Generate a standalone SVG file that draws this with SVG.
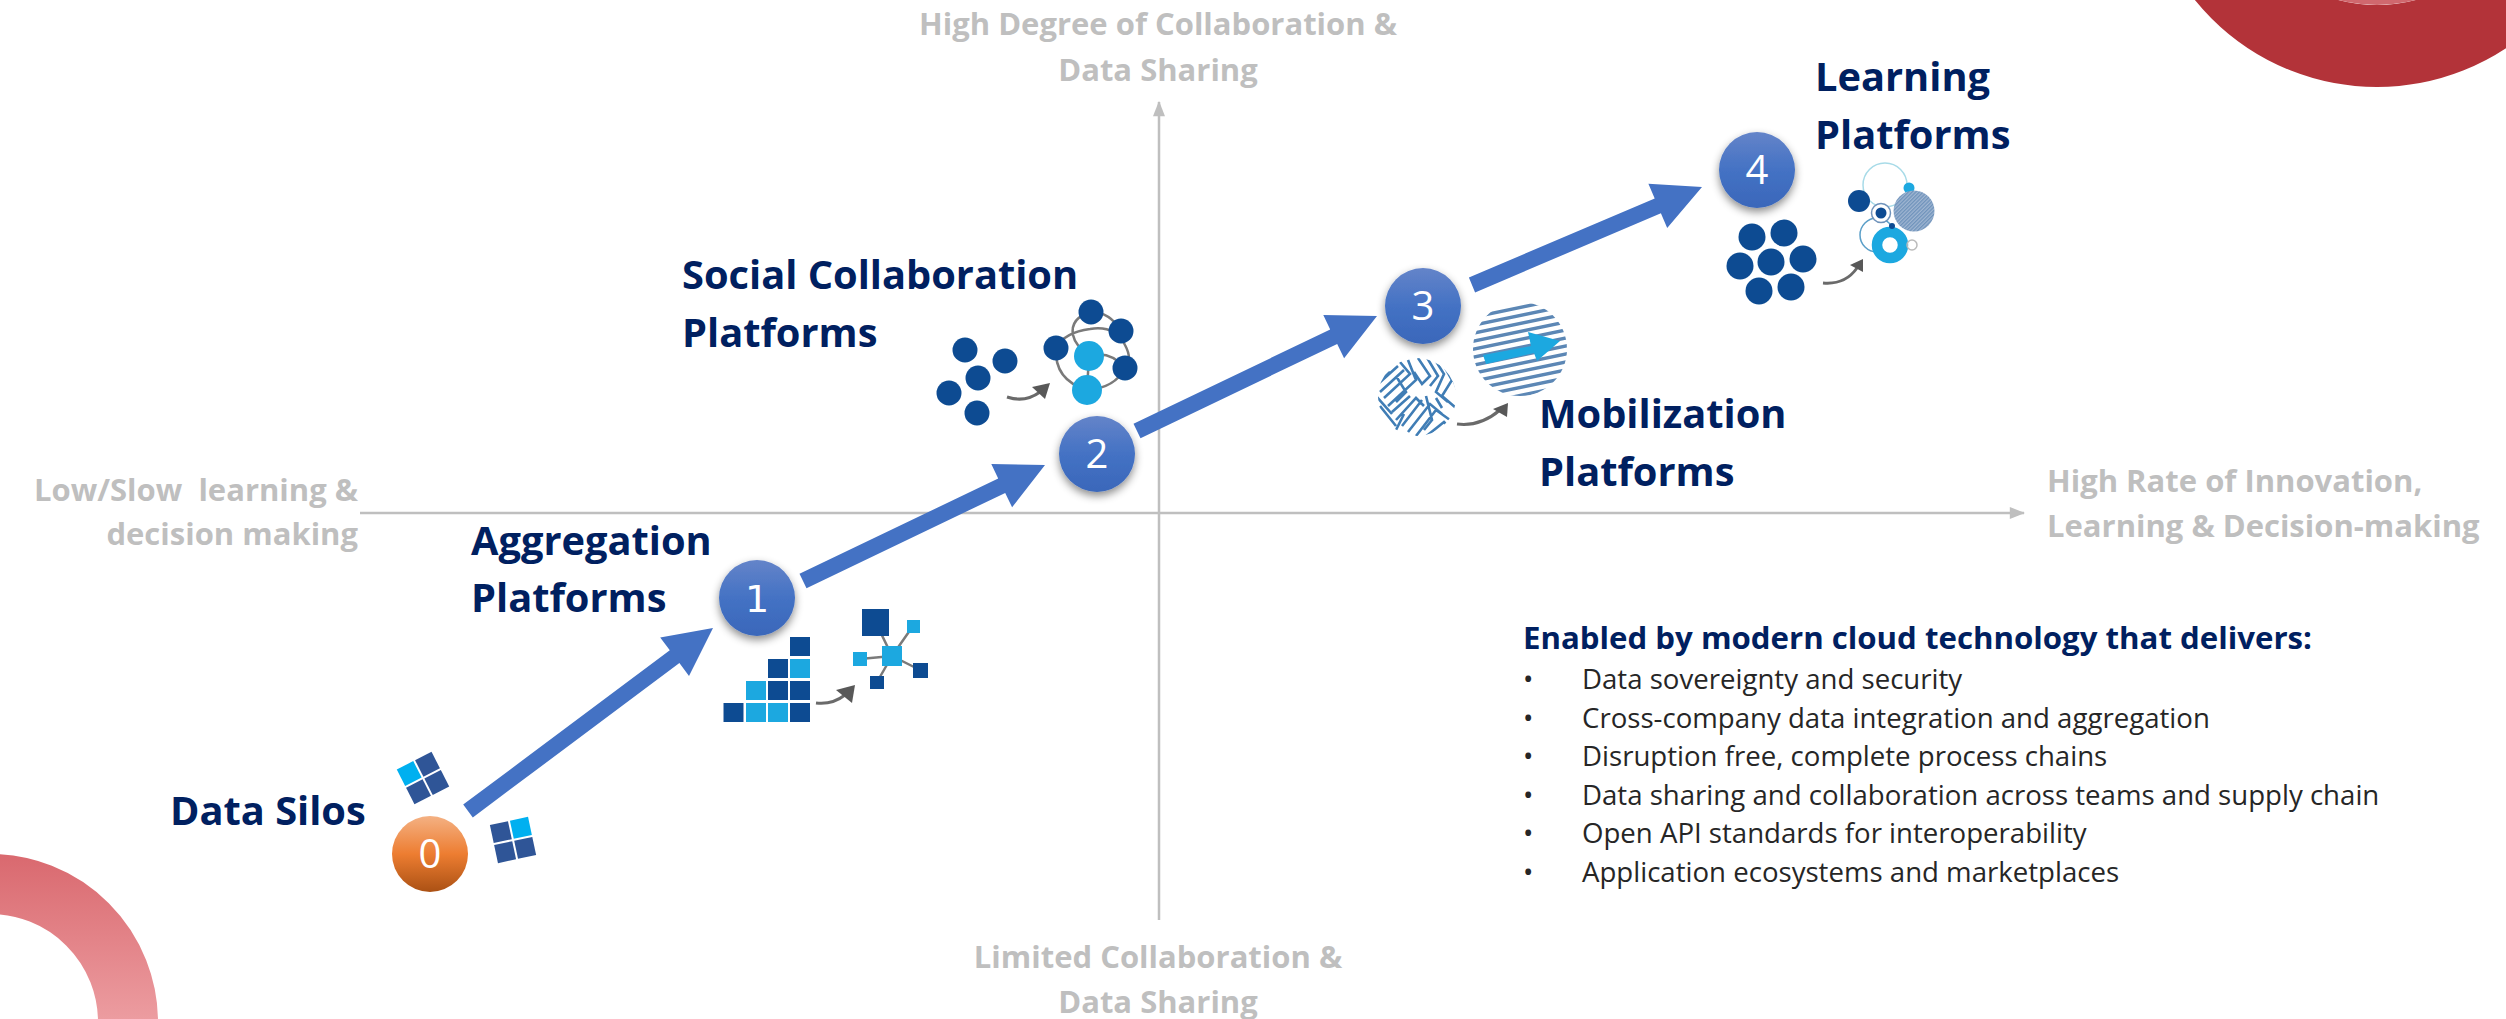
<svg xmlns="http://www.w3.org/2000/svg" width="2506" height="1019" viewBox="0 0 2506 1019">
<style>
text{font-family:"Open Sans","Noto Sans","Liberation Sans",sans-serif;white-space:pre}
.g{font-size:31px;font-weight:700;fill:#bfbfbf}
.t{font-size:39.8px;font-weight:700;fill:#002060}
.h{font-size:31.2px;font-weight:700;fill:#002060}
.b{font-size:27.6px;fill:#262626}
.n{font-size:40px;fill:#fff;text-anchor:middle}
.m{text-anchor:middle}
.e{text-anchor:end}
.d{fill:#0f4c92}
.l{fill:#1fa8e0}
.q{fill:#2f5597}
.a{fill:#4472c4}
.c{fill:none;stroke:#6b6b6b;stroke-width:3}
.w{fill:none;stroke:#7a7a7a;stroke-width:2.5}
.k{fill:#595959}
</style>
<defs>
<linearGradient id="gb" x1="0" y1="0" x2="0" y2="1"><stop offset="0" stop-color="#6484c9"/><stop offset=".5" stop-color="#4472c4"/><stop offset="1" stop-color="#3a67ba"/></linearGradient>
<linearGradient id="go" x1="0" y1="0" x2="0" y2="1"><stop offset="0" stop-color="#f4b183"/><stop offset=".5" stop-color="#ed7d31"/><stop offset="1" stop-color="#ab5114"/></linearGradient>
<linearGradient id="gr" gradientUnits="userSpaceOnUse" x1="0" y1="852" x2="0" y2="1019"><stop offset="0" stop-color="#d9686e"/><stop offset="1" stop-color="#ec9ca0"/></linearGradient>
<filter id="sh" x="-30%" y="-30%" width="160%" height="170%"><feDropShadow dx="0" dy="4" stdDeviation="4" flood-color="#000" flood-opacity=".45"/></filter>
<filter id="sf" x="-5%" y="-5%" width="110%" height="110%"><feGaussianBlur stdDeviation=".6"/></filter>
<marker id="ah" markerWidth="16" markerHeight="12" refX="13" refY="5.5" orient="auto" markerUnits="userSpaceOnUse" viewBox="0 0 14 11"><path d="M0 0L14 5.5L0 11Z" fill="#bfbfbf"/></marker>
<pattern id="hat" width="2.6" height="2.6" patternUnits="userSpaceOnUse" patternTransform="rotate(45)"><rect width="2.6" height="2.6" fill="#a0b6d2"/><rect width="1.3" height="2.6" fill="#6f93bb"/></pattern>
<clipPath id="c3a"><circle cx="1417" cy="397" r="39"/></clipPath>
<clipPath id="c3b"><circle cx="1520" cy="349" r="47"/></clipPath>
</defs>

<g id="deco">
<circle cx="2377" cy="-147" r="193" fill="none" stroke="#b33339" stroke-width="82"/>
<circle cx="2377" cy="-147" r="152" fill="#d0686e"/>
<circle cx="-10" cy="1022" r="138" fill="none" stroke="url(#gr)" stroke-width="60"/>
</g>

<g id="axes">
<line x1="360" y1="513" x2="2024" y2="513" stroke="#bfbfbf" stroke-width="2.5" marker-end="url(#ah)"/>
<line x1="1159" y1="920" x2="1159" y2="102" stroke="#bfbfbf" stroke-width="2.5" marker-end="url(#ah)"/>
</g>

<g id="connectors" class="a">
<polygon points="463.2,804.6 669.8,650.3 660.2,637.5 713,628 689,675.9 679.4,663.1 472.8,817.4"/>
<polygon points="799.5,573.8 998.2,478.5 991.3,464.1 1045,465 1012.1,507.3 1005.2,492.9 806.5,588.2"/>
<polygon points="1133.5,423.8 1330.2,329.5 1323.3,315.1 1377,316 1344.1,358.3 1337.2,343.9 1140.5,438.2"/>
<polygon points="1468.9,277.6 1654.7,198.4 1648.4,183.7 1702,187 1667.2,227.9 1660.9,213.2 1475.1,292.4"/>
</g>

<g id="axis-labels">
<text class="g m" x="1158" y="35">High Degree of Collaboration &amp;</text>
<text class="g m" x="1158" y="81">Data Sharing</text>
<text class="g e" x="358" y="501">Low/Slow  learning &amp;</text>
<text class="g e" x="358" y="545">decision making</text>
<text class="g" x="2047" y="492">High Rate of Innovation,</text>
<text class="g" x="2047" y="537">Learning &amp; Decision-making</text>
<text class="g m" x="1158" y="968">Limited Collaboration &amp;</text>
<text class="g m" x="1158" y="1013">Data Sharing</text>
</g>

<g id="node-0">
<text class="t" x="170" y="825">Data Silos</text>
<g transform="translate(423,778) rotate(-27)">
<rect x="-19.5" y="-19.5" width="18.5" height="18.5" fill="#00b0f0"/>
<rect x="1" y="-19.5" width="18.5" height="18.5" class="q"/>
<rect x="-19.5" y="1" width="18.5" height="18.5" class="q"/>
<rect x="1" y="1" width="18.5" height="18.5" class="q"/>
</g>
<g transform="translate(513,840) rotate(-12)">
<rect x="-19.5" y="-19.5" width="18.5" height="18.5" class="q"/>
<rect x="1" y="-19.5" width="18.5" height="18.5" fill="#00b0f0"/>
<rect x="-19.5" y="1" width="18.5" height="18.5" class="q"/>
<rect x="1" y="1" width="18.5" height="18.5" class="q"/>
</g>
<circle cx="430" cy="854" r="38" fill="url(#go)"/>
<text class="n" x="430" y="868">0</text>
</g>

<g id="node-1">
<text class="t" x="471" y="555">Aggregation</text>
<text class="t" x="471" y="612">Platforms</text>
<circle cx="757" cy="598" r="38" fill="url(#gb)" filter="url(#sh)"/>
<text class="n" x="757" y="612" style="font-family:'DejaVu Sans',sans-serif;font-size:38px">1</text>
<g filter="url(#sf)">
<rect class="d" x="723.5" y="703" width="20" height="19"/>
<rect class="l" x="746" y="703" width="20" height="19"/>
<rect class="l" x="768" y="703" width="20" height="19"/>
<rect class="d" x="790" y="703" width="20" height="19"/>
<rect class="l" x="746" y="681" width="20" height="19"/>
<rect class="d" x="768" y="681" width="20" height="19"/>
<rect class="d" x="790" y="681" width="20" height="19"/>
<rect class="d" x="768" y="659" width="20" height="19"/>
<rect class="l" x="790" y="659" width="20" height="19"/>
<rect class="d" x="790" y="637" width="20" height="19"/>
<path class="c" d="M816 703Q832 705 845 695"/>
<polygon class="k" points="836,690 855,685 852,703"/>
<path class="w" d="M876 623L892 656L913 626M860 659L892 656L920 670M877 682L892 656"/>
<rect class="d" x="862" y="609" width="27" height="27"/>
<rect class="l" x="907" y="620" width="13" height="13"/>
<rect class="l" x="882" y="646" width="20" height="20"/>
<rect class="l" x="853" y="652" width="14" height="14"/>
<rect class="d" x="913" y="663" width="15" height="15"/>
<rect class="d" x="870" y="676" width="14" height="13"/>
</g>
</g>

<g id="node-2">
<text class="t" x="682" y="289">Social Collaboration</text>
<text class="t" x="682" y="347">Platforms</text>
<circle cx="1097" cy="454" r="38" fill="url(#gb)" filter="url(#sh)"/>
<text class="n" x="1097" y="468">2</text>
<g filter="url(#sf)">
<circle class="d" cx="965" cy="350" r="12.5"/>
<circle class="d" cx="1005" cy="361" r="12.5"/>
<circle class="d" cx="978" cy="378" r="12.5"/>
<circle class="d" cx="949" cy="393" r="12.5"/>
<circle class="d" cx="977" cy="413" r="12.5"/>
<path class="c" d="M1007 397Q1025 403 1040 392"/>
<polygon class="k" points="1032,387 1050,383 1045,399"/>
<path class="w" d="M1091 312Q1070 318 1073 335Q1075 345 1089 356M1091 312Q1110 312 1121 331M1056 348Q1065 332 1090 329Q1115 325 1125 345Q1133 360 1125 368M1056 348Q1054 380 1087 390M1089 356L1087 390M1089 356Q1110 350 1125 368M1087 390Q1115 388 1125 368"/>
<circle class="d" cx="1091" cy="312" r="12.5"/>
<circle class="d" cx="1121" cy="331" r="12.5"/>
<circle class="d" cx="1056" cy="348" r="12.5"/>
<circle class="l" cx="1089" cy="356" r="15"/>
<circle class="d" cx="1125" cy="368" r="12.5"/>
<circle class="l" cx="1087" cy="390" r="15"/>
</g>
</g>

<g id="node-3">
<text class="t" x="1539" y="428">Mobilization</text>
<text class="t" x="1539" y="486">Platforms</text>
<circle cx="1423" cy="306" r="38" fill="url(#gb)" filter="url(#sh)"/>
<text class="n" x="1423" y="320">3</text>
<g filter="url(#sf)">
<g clip-path="url(#c3a)" fill="none" stroke="#3f7db5" stroke-width="2.6">
<path d="M1378 384L1398 366M1380 392L1404 370M1384 398L1410 374L1400 362M1388 406L1416 380L1408 360M1392 412L1410 396M1396 420L1416 398L1424 406M1402 426L1422 400M1408 432L1430 404L1442 414M1416 436L1436 410L1450 420M1424 438L1444 422L1452 430M1436 436L1456 418M1418 358L1430 376L1422 384L1414 372M1426 356L1438 376L1430 386M1434 358L1444 374L1436 392L1448 402M1442 362L1452 380L1442 396L1456 408M1450 370L1458 392M1376 396L1392 414M1380 406L1396 426M1396 376L1406 392L1396 402M1404 414L1396 430M1426 396L1432 420L1424 430M1436 398L1442 408M1372 388L1390 372"/>
</g>
<g clip-path="url(#c3b)" fill="none" stroke="#5b87b5" stroke-width="3.4">
<path d="M1460 320L1580 295M1460 328L1580 303M1460 336L1580 311M1460 344L1580 319M1460 352L1580 327M1460 360L1580 335M1460 368L1580 343M1460 376L1580 351M1460 384L1580 359M1460 392L1580 367M1460 400L1580 375M1460 408L1580 383M1460 416L1580 391M1460 424L1580 399"/>
</g>
<polygon class="l" points="1483,355 1531,346 1528,332 1560,341 1537,361 1534,353 1486,364"/>
<path class="c" d="M1457 424Q1480 427 1500 410"/>
<polygon class="k" points="1493,409 1508,403 1507,417"/>
</g>
</g>

<g id="node-4">
<text class="t" x="1815" y="91">Learning</text>
<text class="t" x="1815" y="149">Platforms</text>
<circle cx="1757" cy="170" r="38" fill="url(#gb)" filter="url(#sh)"/>
<text class="n" x="1757" y="184">4</text>
<g filter="url(#sf)">
<circle class="d" cx="1752" cy="237" r="13.5"/>
<circle class="d" cx="1784" cy="233" r="13.5"/>
<circle class="d" cx="1740" cy="266" r="13.5"/>
<circle class="d" cx="1771" cy="262" r="13.5"/>
<circle class="d" cx="1803" cy="259" r="13.5"/>
<circle class="d" cx="1759" cy="291" r="13.5"/>
<circle class="d" cx="1791" cy="287" r="13.5"/>
<path class="c" d="M1823 283Q1845 285 1857 268"/>
<polygon class="k" points="1850,265 1863,259 1863,272"/>
<circle cx="1885" cy="185" r="22" fill="none" stroke="#a8dbe8" stroke-width="1.5"/>
<circle cx="1877" cy="235" r="17" fill="none" stroke="#5b9fc8" stroke-width="1.5"/>
<circle class="l" cx="1909" cy="188" r="5.5"/>
<circle class="d" cx="1859" cy="201" r="11"/>
<circle cx="1881" cy="213" r="9.5" fill="#fff" stroke="#6f93bb" stroke-width="1.5"/>
<circle class="d" cx="1881" cy="213" r="5.5"/>
<circle cx="1914" cy="211" r="20.5" fill="url(#hat)"/>
<circle cx="1890" cy="245" r="13" fill="#fff" stroke="#1fa8e0" stroke-width="10.5"/>
<circle class="d" cx="1892" cy="226" r="3"/>
<circle cx="1912" cy="245" r="5" fill="none" stroke="#bbb" stroke-width="1.5"/>
</g>
</g>

<g id="enablers">
<text class="h" x="1523" y="649">Enabled by modern cloud technology that delivers:</text>
<text class="b" x="1523" y="689">•</text><text class="b" x="1582" y="689">Data sovereignty and security</text>
<text class="b" x="1523" y="727.6">•</text><text class="b" x="1582" y="727.6">Cross-company data integration and aggregation</text>
<text class="b" x="1523" y="766.2">•</text><text class="b" x="1582" y="766.2">Disruption free, complete process chains</text>
<text class="b" x="1523" y="804.8">•</text><text class="b" x="1582" y="804.8">Data sharing and collaboration across teams and supply chain</text>
<text class="b" x="1523" y="843.4">•</text><text class="b" x="1582" y="843.4">Open API standards for interoperability</text>
<text class="b" x="1523" y="882">•</text><text class="b" x="1582" y="882">Application ecosystems and marketplaces</text>
</g>
</svg>
